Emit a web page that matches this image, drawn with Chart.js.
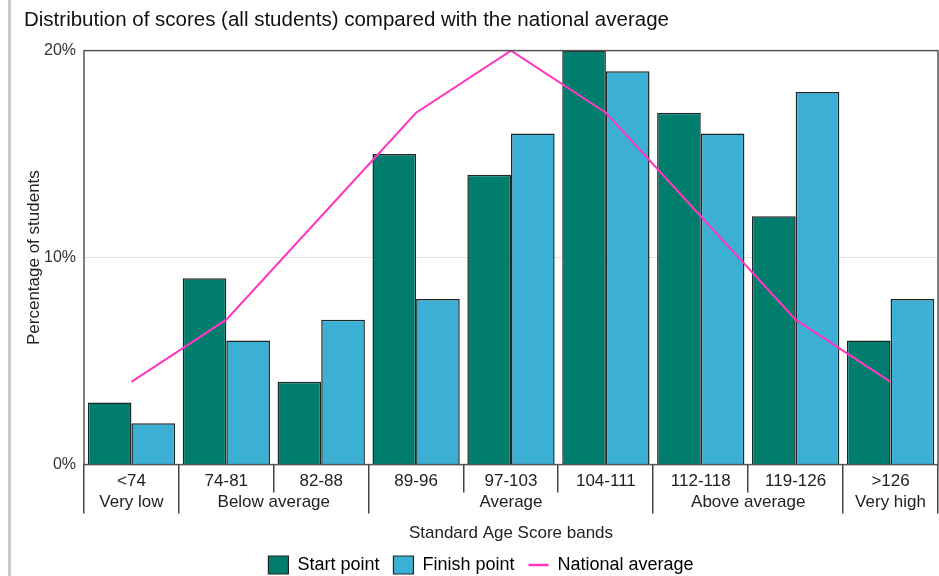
<!DOCTYPE html>
<html>
<head>
<meta charset="utf-8">
<script src="https://cdn.jsdelivr.net/npm/chart.js@4/dist/chart.umd.min.js"></script>
<style>
  html, body { margin: 0; padding: 0; background: #ffffff; }
  #wrap { width: 939px; height: 576px; position: relative; }
</style>
</head>
<body>
<div id="wrap"><canvas id="chart"></canvas></div>
<script>
// Standard Age Score bands and the band groups they belong to
const bands = ['<74', '74-81', '82-88', '89-96', '97-103', '104-111', '112-118', '119-126', '>126'];
const groupNames = ['Very low', 'Below average', 'Average', 'Above average', 'Very high'];
const groupSizes = [1, 2, 3, 2, 1];

// Percentage of students in each band
const startPoint = [3, 9, 4, 15, 14, 20, 17, 12, 6];
const finishPoint = [2, 6, 7, 8, 16, 19, 16, 18, 8];
const nationalAverage = [4, 7, 12, 17, 20, 17, 12, 7, 4];

const yTicks = [0, 10, 20];

const FONT = "'Liberation Sans', Arial, sans-serif";
const TEAL = '#007d6d';
const BLUE = '#3cb0d4';
const PINK = '#ff36c0';

// Frame, band separators, group labels and the page rule on the left
const decorations = {
  id: 'decorations',
  beforeDraw(chart) {
    const ctx = chart.ctx;
    ctx.save();
    ctx.strokeStyle = '#c9c9c9';
    ctx.lineWidth = 3;
    ctx.beginPath();
    ctx.moveTo(9.5, 0);
    ctx.lineTo(9.5, chart.height);
    ctx.stroke();
    ctx.restore();
  },
  afterDraw(chart) {
    const ctx = chart.ctx;
    const area = chart.chartArea;
    const x = chart.scales.x;
    const n = bands.length;
    const catW = (x.right - x.left) / n;
    ctx.save();
    // plot frame
    ctx.strokeStyle = '#555';
    ctx.lineWidth = 1.5;
    ctx.strokeRect(area.left, area.top, area.right - area.left, area.bottom - area.top);

    // group boundaries (long) and band boundaries (short)
    const groupEdges = [0];
    groupSizes.forEach(s => groupEdges.push(groupEdges[groupEdges.length - 1] + s));
    ctx.strokeStyle = '#444';
    ctx.lineWidth = 1.5;
    for (let k = 0; k <= n; k++) {
      const px = Math.round(x.left + k * catW) - 0.25;
      const isGroup = groupEdges.includes(k);
      ctx.beginPath();
      ctx.moveTo(px, area.bottom);
      ctx.lineTo(px, area.bottom + (isGroup ? 49 : 28));
      ctx.stroke();
    }

    // group names
    ctx.fillStyle = '#222';
    ctx.font = '17px ' + FONT;
    ctx.textAlign = 'center';
    ctx.textBaseline = 'middle';
    for (let g = 0; g < groupNames.length; g++) {
      const l = x.left + groupEdges[g] * catW;
      const r = x.left + groupEdges[g + 1] * catW;
      ctx.fillText(groupNames[g], (l + r) / 2, area.bottom + 38);
    }
    ctx.restore();
  }
};

new Chart(document.getElementById('chart'), {
  data: {
    labels: bands,
    datasets: [
      {
        type: 'bar',
        label: 'Start point',
        data: startPoint,
        backgroundColor: TEAL,
        borderColor: '#1c2626',
        borderWidth: 1.5,
        order: 1
      },
      {
        type: 'bar',
        label: 'Finish point',
        data: finishPoint,
        backgroundColor: BLUE,
        borderColor: '#1c2626',
        borderWidth: 1.5,
        order: 1
      },
      {
        type: 'line',
        label: 'National average',
        data: nationalAverage,
        borderColor: PINK,
        backgroundColor: PINK,
        borderWidth: 2,
        pointRadius: 0,
        tension: 0,
        order: -1
      }
    ]
  },
  options: {
    responsive: true,
    maintainAspectRatio: false,
    animation: false,
    datasets: {
      bar: { categoryPercentage: 0.92, barPercentage: 1 }
    },
    layout: { padding: { left: 24, right: 1, top: 0, bottom: -8 } },
    plugins: {
      title: {
        display: true,
        text: 'Distribution of scores (all students) compared with the national average',
        align: 'start',
        color: '#111',
        font: { family: FONT, size: 20.5, weight: 'normal' },
        padding: { top: 8, bottom: 18 }
      },
      legend: {
        position: 'bottom',
        labels: {
          usePointStyle: true,
          pointStyleWidth: 20,
          color: '#111',
          font: { family: FONT, size: 18 },
          padding: 14,
          sort: (a, b) => a.datasetIndex - b.datasetIndex,
          generateLabels(chart) {
            return chart.data.datasets.map((ds, i) => ({
              text: ds.label,
              fillStyle: ds.backgroundColor,
              strokeStyle: ds.type === 'line' ? ds.borderColor : '#222',
              lineWidth: ds.type === 'line' ? 2.5 : 1.2,
              pointStyle: ds.type === 'line' ? 'line' : 'rect',
              datasetIndex: i,
              hidden: !chart.isDatasetVisible(i)
            }));
          }
        }
      },
      tooltip: { enabled: false }
    },
    scales: {
      x: {
        grid: { display: false, drawTicks: false },
        border: { display: false },
        ticks: {
          color: '#222',
          font: { family: FONT, size: 17 },
          padding: 7,
          maxRotation: 0,
          autoSkip: false
        },
        title: {
          display: true,
          text: 'Standard Age Score bands',
          color: '#222',
          font: { family: FONT, size: 17, lineHeight: 1 },
          padding: { top: 26, bottom: 0 }
        }
      },
      y: {
        min: 0,
        max: 20,
        afterBuildTicks(scale) {
          scale.ticks = yTicks.map(v => ({ value: v }));
        },
        afterFit(scale) { scale.width = 60; },
        grid: {
          drawTicks: false,
          color: ctx => (ctx.tick && ctx.tick.value === 10 ? '#e2e2e2' : 'rgba(0,0,0,0)')
        },
        border: { display: false },
        ticks: {
          color: '#333',
          font: { family: FONT, size: 16 },
          padding: 8,
          callback: v => v + '%'
        },
        title: {
          display: true,
          text: 'Percentage of students',
          color: '#222',
          font: { family: FONT, size: 17 },
          padding: { top: 0, bottom: 0 }
        }
      }
    }
  },
  plugins: [decorations]
});
</script>
</body>
</html>
